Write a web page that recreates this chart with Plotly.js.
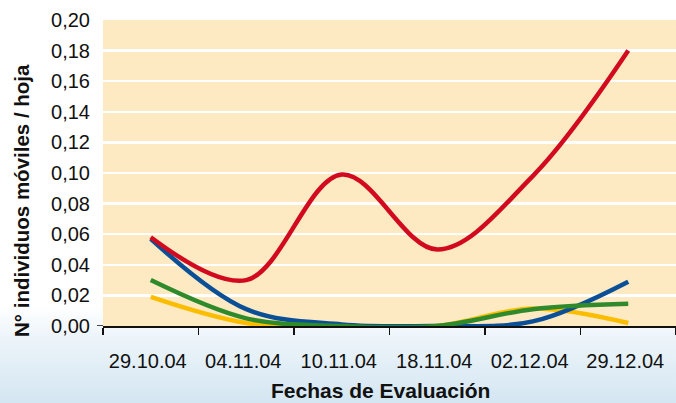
<!DOCTYPE html>
<html>
<head>
<meta charset="utf-8">
<script src="https://cdn.plot.ly/plotly-3.0.1.min.js"></script>
<style>
  html, body { margin: 0; padding: 0; }
  body { width: 676px; height: 403px; overflow: hidden;
    background: linear-gradient(to bottom, #ffffff 0%, #ffffff 76%, #eef5fa 83%, #d4e6f2 100%); }
  #chart { width: 676px; height: 403px; }
</style>
</head>
<body>
<div id="chart"></div>
<script>
const fechas = ['29.10.04', '04.11.04', '10.11.04', '18.11.04', '02.12.04', '29.12.04'];
const serieRoja = [0.058, 0.030, 0.099, 0.050, 0.098, 0.180];
const serieAzul = [0.057, 0.011, 0.001, 0.000, 0.003, 0.029];
const serieVerde = [0.030, 0.005, 0.000, 0.000, 0.011, 0.0145];
const serieAmarilla = [0.019, 0.002, 0.000, 0.000, 0.0115, 0.002];
const yTicks = [0, 0.02, 0.04, 0.06, 0.08, 0.10, 0.12, 0.14, 0.16, 0.18, 0.20];

function serie(y, color) {
  return { x: fechas, y: y, type: 'scatter', mode: 'lines',
    line: { color: color, width: 4.5, shape: 'spline', smoothing: 1 },
    hoverinfo: 'skip', showlegend: false };
}

const data = [
  serie(serieAmarilla, '#fbbd00'),
  serie(serieAzul, '#0b4f97'),
  serie(serieVerde, '#2f8a2c'),
  serie(serieRoja, '#d10a1f')
];

const font = '"Liberation Sans", Arial, Helvetica, sans-serif';

const layout = {
  width: 676, height: 403,
  margin: { l: 103, r: 0, t: 20, b: 77 },
  paper_bgcolor: 'rgba(0,0,0,0)',
  plot_bgcolor: '#fdeac3',
  separators: ',.',
  font: { family: font, color: '#111', size: 20 },
  xaxis: {
    type: 'category', range: [-0.5, 5.5],
    tickson: 'boundaries', ticks: 'outside', ticklen: 7, tickwidth: 1.2, tickcolor: '#111',
    showline: true, linecolor: '#111', linewidth: 1.5,
    showgrid: false, zeroline: false,
    tickfont: { family: font, size: 20, color: '#111' },
    ticklabelstandoff: 16, ticklabelshift: -3,
    fixedrange: true
  },
  yaxis: {
    range: [0, 0.2], tickvals: yTicks, tickformat: '.2f',
    showgrid: true, gridcolor: '#ffffff', gridwidth: 2.5,
    zeroline: false, showline: false,
    ticks: 'outside', ticklen: 8, tickcolor: 'rgba(0,0,0,0)',
    tickfont: { family: font, size: 20, color: '#111' },
    fixedrange: true
  },
  shapes: [
    { type: 'line', xref: 'paper', yref: 'y', x0: -6/573, x1: 0, y0: 0, y1: 0,
      line: { color: '#111', width: 1.5 } }
  ],
  annotations: [
    { text: '<b>N° individuos móviles / hoja</b>', textangle: -90,
      xref: 'paper', yref: 'paper', x: -82/573, y: (326-201)/306,
      xanchor: 'center', yanchor: 'middle', showarrow: false,
      font: { family: font, size: 20.5, color: '#111' } },
    { text: '<b>Fechas de Evaluación</b>',
      xref: 'paper', yref: 'paper', x: (380-103)/573, y: -(390-326)/306,
      xanchor: 'center', yanchor: 'middle', showarrow: false,
      font: { family: font, size: 21, color: '#111' } }
  ]
};

Plotly.newPlot('chart', data, layout, { staticPlot: true, displayModeBar: false });
</script>
</body>
</html>
